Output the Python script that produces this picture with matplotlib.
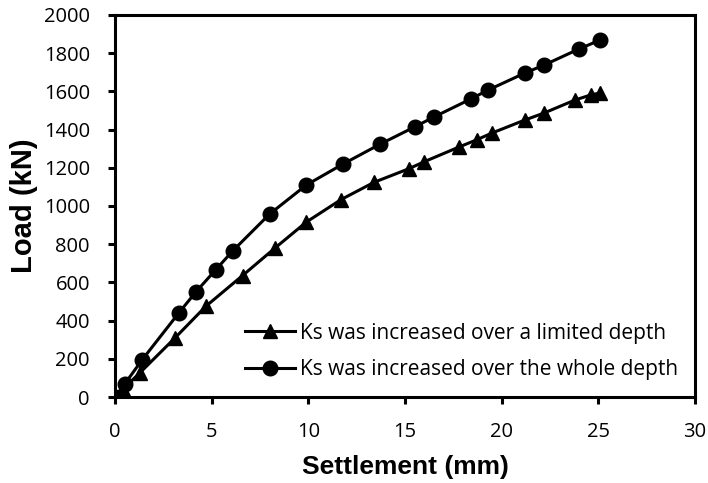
import matplotlib.pyplot as plt

# settlement (mm) and load (kN)
limited_x = [0, 0.4, 1.3, 3.1, 4.7, 6.6, 8.3, 9.9, 11.7, 13.4, 15.2, 16.0, 17.8, 18.7, 19.5, 21.2, 22.2, 23.8, 24.6, 25.1]
limited_y = [0, 40, 128, 309, 475, 636, 782, 916, 1034, 1124, 1195, 1232, 1309, 1346, 1382, 1450, 1487, 1555, 1581, 1592]

whole_x = [0, 0.5, 1.4, 3.3, 4.2, 5.2, 6.1, 8.0, 9.9, 11.8, 13.7, 15.5, 16.5, 18.4, 19.3, 21.2, 22.2, 24.0, 25.1]
whole_y = [0, 68, 194, 440, 552, 665, 766, 958, 1110, 1220, 1323, 1414, 1466, 1560, 1607, 1696, 1738, 1822, 1869]

label_limited = 'Ks was increased over a limited depth'
label_whole = 'Ks was increased over the whole depth'

plt.rcParams['font.family'] = 'Open Sans'
plt.rcParams['font.size'] = 14

fig = plt.figure(figsize=(7.08, 4.83), dpi=100)
ax = fig.add_axes([0.1624, 0.178, 0.8192, 0.791])

ax.plot(limited_x, limited_y, color='black', lw=2.2, marker='^', ms=10.5, label=label_limited)
ax.plot(whole_x, whole_y, color='black', lw=2.2, marker='o', ms=10.5, label=label_whole)

ax.set_xlim(0, 30)
ax.set_ylim(0, 2000)
ax.set_xticks(range(0, 31, 5))
ax.set_yticks(range(0, 2001, 200))

for s in ax.spines.values():
    s.set_linewidth(2.2)
ax.tick_params(direction='out', width=2.2, length=5, labelsize=14.5)
ax.tick_params(axis='x', pad=13)
ax.tick_params(axis='y', pad=13)

ax.set_xlabel('Settlement (mm)', family='Liberation Sans', fontweight='bold', fontsize=19, labelpad=9)
ax.set_ylabel('Load (kN)', family='Liberation Sans', fontweight='bold', fontsize=21, labelpad=4)

ax.legend(loc='lower right', frameon=False, prop={'size': 15},
          handlelength=2.4, handletextpad=0.25, labelspacing=0.75, borderaxespad=0.0,
          bbox_to_anchor=(0.985, 0.022))

fig.savefig('out.png', dpi=100)
